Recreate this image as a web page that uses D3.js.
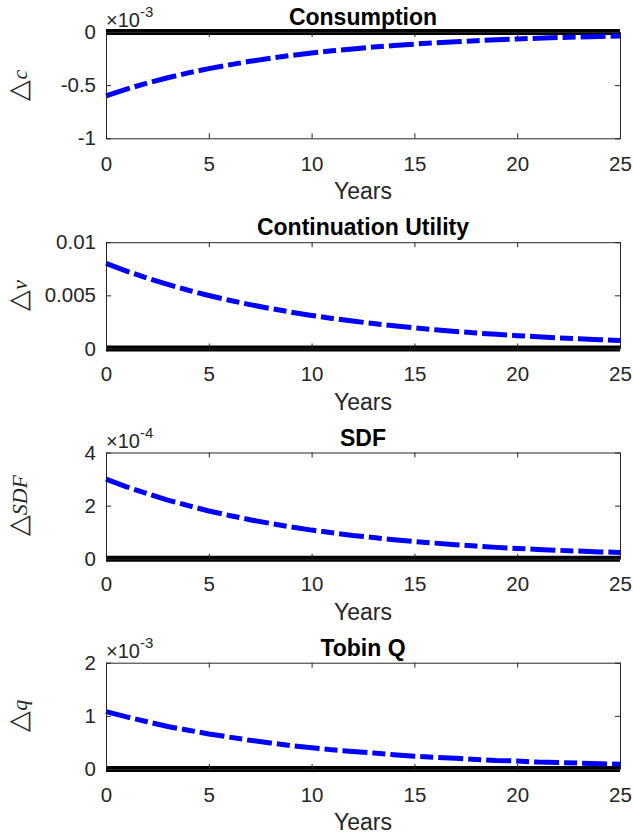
<!DOCTYPE html>
<html>
<head>
<meta charset="utf-8">
<script src="https://cdn.jsdelivr.net/npm/d3@7"></script>
<style>
  body { margin: 0; background: white; }
  text { font-family: "Liberation Sans", Arial, sans-serif; }
</style>
</head>
<body>
<div id="viz_area"></div>
<script>
var width = 633
var height = 838

// years on the x axis
var years = d3.range(0, 26)
var xTicks = [0, 5, 10, 15, 20, 25]

// series values (already divided by the exponent)
var consumption = [-0.60, -0.537, -0.481, -0.430, -0.385, -0.345, -0.309, -0.276, -0.247, -0.221,
  -0.198, -0.177, -0.159, -0.142, -0.127, -0.114, -0.102, -0.091, -0.082, -0.073,
  -0.065, -0.059, -0.052, -0.047, -0.042, -0.038]
var contUtility = [0.0080, 0.00728, 0.00662, 0.00603, 0.00548, 0.00499, 0.00454, 0.00413, 0.00376, 0.00342,
  0.00311, 0.00283, 0.00258, 0.00235, 0.00214, 0.00194, 0.00177, 0.00161, 0.00146, 0.00133,
  0.00121, 0.00110, 0.00100, 0.00091, 0.00083, 0.00076]
var sdf = [3.00, 2.71, 2.45, 2.21, 2.00, 1.80, 1.63, 1.47, 1.33, 1.20,
  1.08, 0.98, 0.88, 0.80, 0.72, 0.65, 0.59, 0.53, 0.48, 0.43,
  0.39, 0.35, 0.32, 0.29, 0.26, 0.24]
var tobinQ = [1.08, 0.98, 0.89, 0.80, 0.73, 0.66, 0.60, 0.54, 0.49, 0.44,
  0.40, 0.36, 0.33, 0.30, 0.27, 0.24, 0.22, 0.20, 0.18, 0.16,
  0.15, 0.13, 0.12, 0.11, 0.10, 0.09]

var titles = ["Consumption", "Continuation Utility", "SDF", "Tobin Q"]
var yLetters = ["c", "v", "SDF", "q"]
var exponents = ["-3", null, "-4", "-3"]
var yDomains = [[-1, 0], [0, 0.01], [0, 4], [0, 2]]
var yTicks = [[-1, -0.5, 0], [0, 0.005, 0.01], [0, 2, 4], [0, 1, 2]]
var yTickLabels = [["-1", "-0.5", "0"], ["0", "0.005", "0.01"], ["0", "2", "4"], ["0", "1", "2"]]
var series = [consumption, contUtility, sdf, tobinQ]

var margin = { left: 106, right: 13 }
var panelTops = [32, 242.2, 452.5, 662.7]
var panelH = 106.3
var axisColor = "#262626"

var svg = d3.select("#viz_area")
  .append("svg")
  .attr("width", width)
  .attr("height", height)
  .style("background-color", "white");

var scX = d3.scaleLinear()
  .domain([0, 25])
  .range([margin.left, width - margin.right])

function drawPanel(i) {
  var top = panelTops[i]
  var bottom = top + panelH
  var scY = d3.scaleLinear().domain(yDomains[i]).range([bottom, top])
  var g = svg.append("g")

  // zero line
  g.append("line")
    .attr("x1", scX(0)).attr("x2", scX(25))
    .attr("y1", scY(0)).attr("y2", scY(0))
    .attr("stroke", "black")
    .attr("stroke-width", 6)

  var line = d3.line()
    .x((d, j) => scX(years[j]))
    .y(d => scY(d))

  g.append("path")
    .datum(series[i])
    .attr("fill", "none")
    .attr("stroke", "#0000ff")
    .attr("stroke-width", 5)
    .attr("stroke-dasharray", "25,5,13,5")
    .attr("d", line)

  // axes, ticks pointing inward on all four sides
  var labels = yTickLabels[i]
  g.append("g")
    .attr("transform", `translate(${margin.left},0)`)
    .call(d3.axisLeft(scY).tickValues(yTicks[i]).tickSizeInner(-5).tickSizeOuter(0).tickPadding(10)
      .tickFormat((d, j) => labels[j]))
  g.append("g")
    .attr("transform", `translate(${width - margin.right},0)`)
    .call(d3.axisRight(scY).tickValues(yTicks[i]).tickSizeInner(-5).tickSizeOuter(0).tickFormat(""))
  g.append("g")
    .attr("transform", `translate(0,${bottom})`)
    .call(d3.axisBottom(scX).tickValues(xTicks).tickSizeInner(-5).tickSizeOuter(0).tickPadding(18))
  g.append("g")
    .attr("transform", `translate(0,${top})`)
    .call(d3.axisTop(scX).tickValues(xTicks).tickSizeInner(-5).tickSizeOuter(0).tickFormat(""))

  g.selectAll(".domain, .tick line").attr("stroke", axisColor).attr("stroke-width", 1)
  g.selectAll(".tick text")
    .attr("fill", axisColor)
    .style("font-size", "20.5px")
    .style("font-family", "'Liberation Sans', Arial, sans-serif")

  // title
  g.append("text")
    .attr("x", (scX(0) + scX(25)) / 2)
    .attr("y", top - 7)
    .attr("text-anchor", "middle")
    .style("font-size", "23px")
    .style("font-weight", "bold")
    .attr("fill", "black")
    .text(titles[i])

  // x label
  g.append("text")
    .attr("x", (scX(0) + scX(25)) / 2)
    .attr("y", bottom + 61)
    .attr("text-anchor", "middle")
    .style("font-size", "23px")
    .attr("fill", axisColor)
    .text("Years")

  // y label
  var yl = g.append("text")
    .attr("transform", `translate(27,${(top + bottom) / 2}) rotate(-90)`)
    .attr("text-anchor", "middle")
    .attr("fill", axisColor)
    .style("font-size", "22px")
  yl.append("tspan")
    .style("font-family", "'DejaVu Sans', sans-serif")
    .style("font-weight", "200")
    .style("font-size", "27px")
    .text("\u25B3")
  yl.append("tspan")
    .style("font-family", "'Liberation Serif', 'DejaVu Serif', serif")
    .style("font-style", "italic")
    .text(yLetters[i])

  // exponent
  if (exponents[i]) {
    var ex = g.append("text")
      .attr("x", margin.left)
      .attr("y", top - 5)
      .attr("fill", axisColor)
      .style("font-size", "20px")
    ex.append("tspan").style("font-weight", "300").text("\u00D710")
    ex.append("tspan").attr("dy", -10).style("font-size", "15px").text(exponents[i])
  }
}

for (let i = 0; i < 4; i++) {
  drawPanel(i)
}
</script>
</body>
</html>
